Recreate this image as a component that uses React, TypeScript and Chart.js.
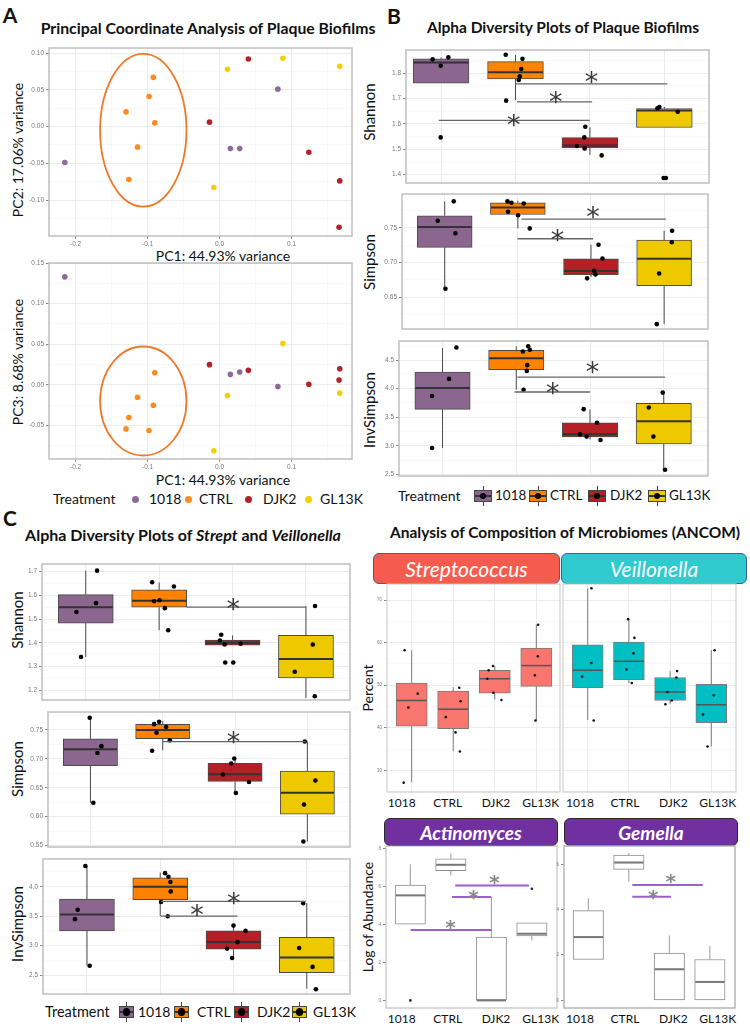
import React, { useEffect, useRef } from "react";
import { Chart, registerables } from "chart.js";

Chart.register(...registerables);
Chart.defaults.font.family = "'Liberation Sans', Arial, sans-serif";

// ---------------- data ----------------
const TREATMENTS = ["1018", "CTRL", "DJK2", "GL13K"];
const BOX_COLORS = ["#8B678F", "#FF8200", "#B42025", "#EEC900"];
const PCOA_COLORS = ["#8E6B96", "#FF8A1F", "#B3222C", "#F2D000"];

// PCoA coordinates per treatment
const PC1_1018 = [-0.215, 0.015, 0.028, 0.081];
const PC2_1018 = [-0.049, -0.030, -0.030, 0.051];
const PC3_1018 = [0.133, 0.013, 0.016, -0.002];
const PC1_CTRL = [-0.092, -0.098, -0.130, -0.090, -0.114, -0.126];
const PC2_CTRL = [0.067, 0.041, 0.020, 0.005, -0.028, -0.072];
const PC3_CTRL = [-0.025, -0.056, -0.054, 0.015, -0.015, -0.040];
const PC1_DJK2 = [0.040, -0.014, 0.124, 0.167, 0.166];
const PC2_DJK2 = [0.092, 0.006, -0.035, -0.074, -0.137];
const PC3_DJK2 = [0.018, 0.025, 0.001, 0.020, 0.006];
const PC1_GL13K = [0.011, 0.088, 0.167, -0.008];
const PC2_GL13K = [0.078, 0.093, 0.082, -0.083];
const PC3_GL13K = [-0.013, 0.051, -0.010, -0.081];
// ellipse: centre x, centre y, radius x, radius y (data units)
const ELLIPSE_PC12 = [-0.106, -0.005, 0.060, 0.104];
const ELLIPSE_PC13 = [-0.106, -0.0197, 0.060, 0.067];

// boxes: [lower whisker, q1, median, q3, upper whisker] per treatment
const B_SHANNON_BOX = [[1.761, 1.761, 1.843, 1.857, 1.863], [1.695, 1.778, 1.804, 1.846, 1.872], [1.478, 1.506, 1.515, 1.546, 1.587], [1.586, 1.586, 1.653, 1.661, 1.667]];
const B_SHANNON_PTS = [[0.887, 1.855], [1.098, 1.863], [0.995, 1.830], [0.995, 1.547], [1.869, 1.873], [2.094, 1.857], [2.077, 1.817], [2.058, 1.788], [2.044, 1.774], [1.875, 1.692], [2.938, 1.589], [2.925, 1.547], [2.825, 1.513], [2.929, 1.503], [3.158, 1.476], [3.907, 1.662], [3.934, 1.667], [4.180, 1.648], [3.99, 1.387], [4.02, 1.387]];
const B_SHANNON_SIG = [[2.0, 4.04, 1.758], [2.02, 3.03, 1.687], [0.97, 3.0, 1.614]];
const B_SHANNON_STARS = [[3.02, 1.789], [2.54, 1.708], [1.977, 1.620]];

const B_SIMPSON_BOX = [[0.662, 0.7216, 0.751, 0.7673, 0.788], [0.749, 0.769, 0.779, 0.786, 0.789], [0.679, 0.6824, 0.6876, 0.7053, 0.7255], [0.611, 0.6663, 0.7053, 0.7323, 0.7457]];
const B_SIMPSON_PTS = [[1.123, 0.788], [0.904, 0.760], [1.146, 0.742], [1.01, 0.662], [1.858, 0.788], [1.912, 0.786], [2.081, 0.785], [1.866, 0.773], [2.003, 0.768], [2.163, 0.749], [3.103, 0.7255], [3.157, 0.7055], [3.042, 0.688], [3.062, 0.6825], [2.947, 0.677], [4.109, 0.7457], [4.105, 0.729], [3.932, 0.684], [3.90, 0.611]];
const B_SIMPSON_SIG = [[2.049, 4.023, 0.7625], [1.995, 3.029, 0.7341]];
const B_SIMPSON_STARS = [[3.029, 0.7735], [2.542, 0.7414]];

const B_INVSIMPSON_BOX = [[2.96, 3.635, 4.01, 4.29, 4.71], [3.98, 4.33, 4.53, 4.67, 4.74], [3.11, 3.155, 3.20, 3.40, 3.635], [2.58, 3.03, 3.43, 3.74, 3.93]];
const B_INVSIMPSON_PTS = [[1.189, 4.72], [1.089, 4.17], [0.859, 3.87], [0.859, 2.96], [2.162, 4.74], [2.184, 4.68], [2.089, 4.65], [2.149, 4.41], [2.143, 4.31], [2.099, 3.98], [2.914, 3.64], [3.095, 3.40], [2.865, 3.20], [2.954, 3.16], [3.143, 3.10], [3.986, 3.93], [3.797, 3.67], [3.859, 3.16], [4.017, 2.58]];
const B_INVSIMPSON_SIG = [[2.014, 4.018, 4.20], [1.977, 3.0, 3.94]];
const B_INVSIMPSON_STARS = [[3.035, 4.395], [2.495, 4.03]];

const C_SHANNON_BOX = [[1.34, 1.483, 1.55, 1.603, 1.704], [1.453, 1.55, 1.577, 1.623, 1.654], [1.39, 1.39, 1.40, 1.411, 1.431], [1.167, 1.252, 1.332, 1.431, 1.555]];
const C_SHANNON_PTS = [[1.154, 1.704], [1.14, 1.567], [0.873, 1.53], [0.936, 1.34], [1.905, 1.655], [2.201, 1.637], [1.932, 1.575], [2.005, 1.579], [2.078, 1.546], [2.123, 1.453], [2.846, 1.434], [2.828, 1.41], [2.892, 1.393], [3.11, 1.396], [2.90, 1.317], [3.01, 1.317], [4.124, 1.555], [4.093, 1.393], [3.847, 1.278], [4.12, 1.175]];
const C_SHANNON_SIG = [[2.374, 4.0, 1.55]];
const C_SHANNON_STARS = [[3.01, 1.568]];

const C_SIMPSON_BOX = [[0.624, 0.688, 0.7166, 0.7345, 0.771], [0.715, 0.735, 0.75, 0.7597, 0.765], [0.641, 0.661, 0.6735, 0.6924, 0.7005], [0.557, 0.6043, 0.6414, 0.679, 0.730]];
const C_SIMPSON_PTS = [[0.99, 0.771], [1.152, 0.722], [1.097, 0.710], [1.04, 0.624], [1.881, 0.760], [1.95, 0.764], [2.047, 0.755], [1.914, 0.745], [2.098, 0.732], [1.853, 0.714], [2.989, 0.7005], [2.947, 0.692], [2.832, 0.673], [3.193, 0.660], [3.012, 0.641], [3.964, 0.730], [4.111, 0.6626], [3.954, 0.621], [3.945, 0.557]];
const C_SIMPSON_SIG = [[1.99, 3.98, 0.7299]];
const C_SIMPSON_STARS = [[2.98, 0.7385]];

const C_INVSIMPSON_BOX = [[2.66, 3.25, 3.53, 3.79, 4.35], [3.50, 3.78, 4.0, 4.15, 4.24], [2.78, 2.94, 3.06, 3.25, 3.34], [2.27, 2.54, 2.80, 3.14, 3.72]];
const C_INVSIMPSON_PTS = [[0.978, 4.35], [0.873, 3.61], [0.836, 3.45], [1.037, 2.66], [2.066, 4.23], [2.112, 4.17], [2.139, 4.08], [2.143, 3.92], [2.011, 3.74], [2.102, 3.50], [3.0, 3.34], [3.164, 3.25], [3.055, 3.06], [2.913, 2.95], [2.981, 2.79], [3.951, 3.72], [3.896, 2.96], [4.079, 2.64], [4.124, 2.26]];
const C_INVSIMPSON_SIG = [[2.007, 3.988, 3.75], [2.007, 3.055, 3.50]];
const C_INVSIMPSON_STARS = [[3.004, 3.83], [2.503, 3.62]];

const STREP_BOX = [[27.2, 40.35, 46.4, 50.5, 58.2], [34.5, 39.8, 44.35, 48.6, 49.5], [46.6, 48.1, 51.5, 53.5, 54.5], [41.8, 49.7, 54.6, 58.7, 64.2]];
const STREP_PTS = [[0.83, 58.2], [1.145, 48.0], [0.92, 44.75], [0.807, 27.1], [2.145, 49.4], [2.176, 46.2], [1.82, 42.5], [2.056, 38.9], [2.16, 34.4], [2.957, 54.5], [2.853, 53.5], [2.82, 51.5], [2.966, 48.2], [3.16, 46.5], [4.043, 64.2], [4.036, 56.8], [3.964, 52.3], [3.98, 41.7]];
const VEIL_BOX = [[41.8, 49.4, 53.5, 59.5, 72.7], [50.5, 51.3, 55.6, 60.1, 65.5], [45.5, 46.4, 48.4, 51.8, 53.3], [35.6, 41.2, 45.4, 50.2, 58.2]];
const VEIL_PTS = [[1.09, 72.75], [1.09, 55.2], [0.864, 52.0], [1.146, 41.7], [1.98, 65.5], [2.134, 61.1], [2.11, 57.5], [1.94, 53.7], [2.07, 50.5], [3.17, 53.3], [3.153, 51.8], [2.934, 48.4], [3.04, 46.4], [2.886, 45.5], [4.08, 58.2], [4.06, 47.6], [3.80, 43.1], [3.91, 35.6]];

const ACTINO_BOX = [[4.02, 4.02, 5.53, 6.07, 7.17], [6.58, 6.83, 7.14, 7.46, 7.72], [0, 0, 0, 3.33, 5.44], [3.16, 3.39, 3.51, 4.09, 4.09]];
const ACTINO_OUT = [[1, 0], [4, 5.88]];
const ACTINO_SIG = [[2.108, 3.93, 6.05], [2.027, 3.0, 5.44], [1.007, 3.01, 3.71]];
const ACTINO_STARS = [[3.076, 6.46], [2.56, 5.65], [1.99, 4.09]];
const GEMELLA_BOX = [[1.80, 1.80, 2.79, 3.96, 4.50], [5.24, 5.78, 6.08, 6.41, 6.5], [0, 0, 1.37, 2.08, 2.87], [0, 0, 0.81, 1.80, 2.39]];
const GEMELLA_SIG = [[2.086, 3.825, 5.09], [2.086, 3.04, 4.57]];
const GEMELLA_STARS = [[3.035, 5.43], [2.60, 4.72]];

// ---------------- chart machinery ----------------
const PADL = 30, PADT = 10, PADR = 10;

type Pts = { data: number[][]; color: string; r: number };
type Cfg = {
  l: number; t: number; w: number; h: number;
  xMin: number; xMax: number; yMin: number; yMax: number;
  xCats?: boolean; xMajor?: number; xMinor?: number; xDec?: number; xLabels?: boolean;
  yMajor: number; yMinor?: number; yDec: number; yLabels?: boolean; tickFont?: number;
  grid?: boolean;
  boxes?: number[][]; boxFill?: string[]; boxLine?: string; medLine?: string; whiskLine?: string; medW?: number;
  pts?: Pts[];
  sig?: number[][]; sigColor?: string; sigW?: number;
  stars?: number[][]; starFont?: string; starSize?: number; starColor?: string;
  ellipse?: number[];
  border?: string; borderW?: number;
};

const zip = (a: number[], b: number[]) => a.map((v, i) => [v, b[i]]);

function makeTicks(min: number, max: number, major: number, minor?: number) {
  const step = minor ?? major;
  const out: any[] = [];
  const start = Math.ceil((min - 1e-9) / step);
  for (let k = start; k * step <= max + 1e-9; k++) {
    const v = +(k * step).toFixed(6);
    const r = v / major;
    out.push({ value: v, mj: Math.abs(r - Math.round(r)) < 1e-6 });
  }
  return out;
}

function buildConfig(cfg: Cfg, W: number, padB: number): any {
  const xTicks = cfg.xCats ? [1, 2, 3, 4].map((v) => ({ value: v, mj: true })) : makeTicks(cfg.xMin, cfg.xMax, cfg.xMajor!, cfg.xMinor);
  const yTicks = makeTicks(cfg.yMin, cfg.yMax, cfg.yMajor, cfg.yMinor);
  const pxPerUnit = W / (cfg.xMax - cfg.xMin);
  const bw = 0.75 * pxPerUnit;
  const tf = cfg.tickFont ?? 7;
  const gridColor = (c: any) => (cfg.grid ? (c.tick && c.tick.mj ? "#EBEBEB" : "#F4F4F4") : "rgba(0,0,0,0)");
  const gridW = (c: any) => (c.tick && c.tick.mj ? 1 : 0.6);
  const tickCol = (c: any) => (c.tick && c.tick.mj ? "#8a8a8a" : "rgba(0,0,0,0)");

  const datasets: any[] = [];
  (cfg.pts || []).forEach((p) =>
    datasets.push({
      type: "scatter",
      data: p.data.map(([x, y]) => ({ x, y })),
      backgroundColor: p.color,
      borderWidth: 0,
      pointRadius: p.r,
      pointHoverRadius: p.r,
    })
  );
  if (cfg.boxes) {
    datasets.push({
      type: "bar",
      data: cfg.boxes.map((b, i) => ({ x: i + 1, y: [b[1], b[3]] })),
      backgroundColor: cfg.boxFill,
      borderColor: cfg.boxLine,
      borderWidth: 1,
      borderSkipped: false,
      barThickness: bw,
      grouped: true,
    });
  }

  const line = (ctx: CanvasRenderingContext2D, x1: number, y1: number, x2: number, y2: number) => {
    ctx.beginPath();
    ctx.moveTo(x1, y1);
    ctx.lineTo(x2, y2);
    ctx.stroke();
  };

  const extras = {
    id: "extras",
    afterDatasetDraw(chart: any, args: any) {
      if (!cfg.boxes || chart.data.datasets[args.index].type !== "bar") return;
      const ctx = chart.ctx, xs = chart.scales.x, ys = chart.scales.y;
      ctx.save();
      cfg.boxes.forEach((b, i) => {
        const cx = xs.getPixelForValue(i + 1);
        ctx.strokeStyle = cfg.whiskLine || cfg.boxLine;
        ctx.lineWidth = 1;
        if (b[4] > b[3]) line(ctx, cx, ys.getPixelForValue(b[3]), cx, ys.getPixelForValue(b[4]));
        if (b[0] < b[1]) line(ctx, cx, ys.getPixelForValue(b[0]), cx, ys.getPixelForValue(b[1]));
        ctx.strokeStyle = cfg.medLine;
        ctx.lineWidth = cfg.medW ?? 1.8;
        const my = ys.getPixelForValue(b[2]);
        line(ctx, cx - bw / 2 + 0.5, my, cx + bw / 2 - 0.5, my);
      });
      ctx.restore();
    },
    afterDatasetsDraw(chart: any) {
      const ctx = chart.ctx, xs = chart.scales.x, ys = chart.scales.y;
      ctx.save();
      if (cfg.ellipse) {
        const [ex, ey, rx, ry] = cfg.ellipse;
        const cx = xs.getPixelForValue(ex), cy = ys.getPixelForValue(ey);
        const prx = Math.abs(xs.getPixelForValue(ex + rx) - cx), pry = Math.abs(ys.getPixelForValue(ey + ry) - cy);
        ctx.strokeStyle = "#F07A2A";
        ctx.lineWidth = 1.8;
        ctx.beginPath();
        ctx.ellipse(cx, cy, prx, pry, 0, 0, Math.PI * 2);
        ctx.stroke();
      }
      (cfg.sig || []).forEach(([x1, x2, y]) => {
        ctx.strokeStyle = cfg.sigColor || "#666";
        ctx.lineWidth = cfg.sigW ?? 1.3;
        const py = ys.getPixelForValue(y);
        line(ctx, xs.getPixelForValue(x1), py, xs.getPixelForValue(x2), py);
      });
      (cfg.stars || []).forEach(([x, y]) => {
        const s = cfg.starSize ?? 22;
        ctx.font = cfg.starFont || `${s}px 'DejaVu Sans'`;
        ctx.fillStyle = cfg.starColor || "#444";
        ctx.textAlign = "center";
        ctx.textBaseline = "alphabetic";
        ctx.fillText("*", xs.getPixelForValue(x), ys.getPixelForValue(y) + s * 0.55);
      });
      ctx.restore();
    },
    afterDraw(chart: any) {
      const ctx = chart.ctx, a = chart.chartArea;
      ctx.save();
      ctx.strokeStyle = cfg.border || "#BFBFBF";
      ctx.lineWidth = cfg.borderW ?? 1.5;
      ctx.strokeRect(a.left, a.top, a.right - a.left, a.bottom - a.top);
      ctx.restore();
    },
  };

  return {
    type: "bar",
    data: { datasets },
    plugins: [extras],
    options: {
      animation: false,
      responsive: false,
      devicePixelRatio: 1,
      events: [],
      layout: { padding: { left: 0, top: PADT, right: PADR, bottom: 0 } },
      plugins: { legend: { display: false }, tooltip: { enabled: false }, title: { display: false } },
      scales: {
        x: {
          type: "linear",
          min: cfg.xMin,
          max: cfg.xMax,
          bounds: "data",
          offset: false,
          afterBuildTicks: (s: any) => { s.ticks = xTicks.map((t) => ({ ...t })); },
          afterFit: (s: any) => { s.height = padB; },
          border: { display: false },
          grid: { display: true, offset: false, color: gridColor, lineWidth: gridW, drawTicks: !!cfg.xLabels, tickLength: 3, tickColor: tickCol },
          ticks: {
            display: !!cfg.xLabels,
            autoSkip: false,
            maxRotation: 0,
            padding: 1,
            color: "#7a7a7a",
            font: { size: tf },
            callback: (v: number, i: number, t: any[]) => (t[i] && t[i].mj ? v.toFixed(cfg.xDec ?? 1) : ""),
          },
        },
        y: {
          type: "linear",
          position: "left",
          min: cfg.yMin,
          max: cfg.yMax,
          bounds: "data",
          beginAtZero: false,
          afterBuildTicks: (s: any) => { s.ticks = yTicks.map((t) => ({ ...t })); },
          afterFit: (s: any) => { s.width = PADL; },
          border: { display: false },
          grid: { display: true, color: gridColor, lineWidth: gridW, drawTicks: cfg.yLabels !== false, tickLength: 3, tickColor: tickCol },
          ticks: {
            display: cfg.yLabels !== false,
            autoSkip: false,
            padding: 2,
            color: "#7a7a7a",
            font: { size: tf },
            callback: (v: number, i: number, t: any[]) => (t[i] && t[i].mj ? v.toFixed(cfg.yDec) : ""),
          },
        },
      },
    },
  };
}

function ChartPanel({ cfg }: { cfg: Cfg }) {
  const ref = useRef<HTMLCanvasElement>(null);
  const L = Math.round(cfg.l), T = Math.round(cfg.t), W = Math.round(cfg.w), H = Math.round(cfg.h);
  const padB = cfg.xLabels ? 16 : 10;
  const cw = W + PADL + PADR, ch = H + PADT + padB;
  useEffect(() => {
    const chart = new Chart(ref.current as HTMLCanvasElement, buildConfig(cfg, W, padB));
    return () => chart.destroy();
  }, []);
  return (
    <canvas
      ref={ref}
      width={cw}
      height={ch}
      style={{ position: "absolute", left: L - PADL, top: T - PADT, width: cw, height: ch }}
    />
  );
}

// ---------------- panels ----------------
const PCOA_A1: Pts[] = [
  { data: zip(PC1_1018, PC2_1018), color: PCOA_COLORS[0], r: 2.8 },
  { data: zip(PC1_CTRL, PC2_CTRL), color: PCOA_COLORS[1], r: 2.8 },
  { data: zip(PC1_DJK2, PC2_DJK2), color: PCOA_COLORS[2], r: 2.8 },
  { data: zip(PC1_GL13K, PC2_GL13K), color: PCOA_COLORS[3], r: 2.8 },
];
const PCOA_A2: Pts[] = [
  { data: zip(PC1_1018, PC3_1018), color: PCOA_COLORS[0], r: 2.8 },
  { data: zip(PC1_CTRL, PC3_CTRL), color: PCOA_COLORS[1], r: 2.8 },
  { data: zip(PC1_DJK2, PC3_DJK2), color: PCOA_COLORS[2], r: 2.8 },
  { data: zip(PC1_GL13K, PC3_GL13K), color: PCOA_COLORS[3], r: 2.8 },
];

const boxCommon = {
  xCats: true, grid: true, boxFill: BOX_COLORS, boxLine: "#4a4a4a", medLine: "#333", medW: 2,
  sigColor: "#666", sigW: 1.3, tickFont: 6.5, starSize: 27, starColor: "#3a3a3a",
};

const PANELS: Cfg[] = [
  { l: 49, t: 48, w: 303, h: 188, xMin: -0.237, xMax: 0.184, yMin: -0.149, yMax: 0.107, xMajor: 0.1, xMinor: 0.05, xDec: 1, xLabels: true, yMajor: 0.05, yMinor: 0.025, yDec: 2, grid: true, pts: PCOA_A1, ellipse: ELLIPSE_PC12, tickFont: 6.5 },
  { l: 49, t: 263, w: 303, h: 196, xMin: -0.237, xMax: 0.184, yMin: -0.091, yMax: 0.150, xMajor: 0.1, xMinor: 0.05, xDec: 1, xLabels: true, yMajor: 0.05, yMinor: 0.025, yDec: 2, grid: true, pts: PCOA_A2, ellipse: ELLIPSE_PC13, tickFont: 6.5 },

  { ...boxCommon, l: 405.7, t: 50, w: 302.6, h: 133.3, xMin: 0.529, xMax: 4.6, yMin: 1.367, yMax: 1.892, yMajor: 0.1, yMinor: 0.05, yDec: 1, boxes: B_SHANNON_BOX, pts: [{ data: B_SHANNON_PTS, color: "#000", r: 2.3 }], sig: B_SHANNON_SIG, stars: B_SHANNON_STARS },
  { ...boxCommon, l: 402.3, t: 194.3, w: 306, h: 134.7, xMin: 0.416, xMax: 4.6, yMin: 0.604, yMax: 0.7986, yMajor: 0.05, yMinor: 0.025, yDec: 2, boxes: B_SIMPSON_BOX, pts: [{ data: B_SIMPSON_PTS, color: "#000", r: 2.3 }], sig: B_SIMPSON_SIG, stars: B_SIMPSON_STARS },
  { ...boxCommon, l: 399, t: 341, w: 309.3, h: 134.7, xMin: 0.41, xMax: 4.6, yMin: 2.47, yMax: 4.833, yMajor: 0.5, yMinor: 0.25, yDec: 1, boxes: B_INVSIMPSON_BOX, pts: [{ data: B_INVSIMPSON_PTS, color: "#000", r: 2.3 }], sig: B_INVSIMPSON_SIG, stars: B_INVSIMPSON_STARS },

  { ...boxCommon, l: 42.3, t: 564.3, w: 307.7, h: 136.4, xMin: 0.404, xMax: 4.6, yMin: 1.159, yMax: 1.732, yMajor: 0.1, yMinor: 0.05, yDec: 1, boxes: C_SHANNON_BOX, pts: [{ data: C_SHANNON_PTS, color: "#000", r: 2.3 }], sig: C_SHANNON_SIG, stars: C_SHANNON_STARS },
  { ...boxCommon, l: 48.3, t: 712.3, w: 301.7, h: 135.4, xMin: 0.413, xMax: 4.59, yMin: 0.5476, yMax: 0.781, yMajor: 0.05, yMinor: 0.025, yDec: 2, boxes: C_SIMPSON_BOX, pts: [{ data: C_SIMPSON_PTS, color: "#000", r: 2.3 }], sig: C_SIMPSON_SIG, stars: C_SIMPSON_STARS },
  { ...boxCommon, l: 43.3, t: 859, w: 306.7, h: 135, xMin: 0.40, xMax: 4.59, yMin: 2.18, yMax: 4.47, yMajor: 0.5, yMinor: 0.25, yDec: 1, boxes: C_INVSIMPSON_BOX, pts: [{ data: C_INVSIMPSON_PTS, color: "#000", r: 2.3 }], sig: C_INVSIMPSON_SIG, stars: C_INVSIMPSON_STARS },

  { l: 386.7, t: 584, w: 172.6, h: 207.7, xCats: true, xMin: 0.406, xMax: 4.57, yMin: 24.9, yMax: 73.76, yMajor: 10, yMinor: 5, yDec: 0, tickFont: 4.5, grid: true, boxes: STREP_BOX, boxFill: ["#F8766D", "#F8766D", "#F8766D", "#F8766D"], boxLine: "#7a7a7a", medLine: "#555", medW: 1.5, pts: [{ data: STREP_PTS, color: "#111", r: 1.3 }], border: "#CFCFCF", borderW: 1.2 },
  { l: 562.7, t: 584, w: 173.3, h: 207.7, xCats: true, xMin: 0.40, xMax: 4.6, yMin: 24.9, yMax: 73.76, yMajor: 10, yMinor: 5, yDec: 0, yLabels: false, tickFont: 4.5, grid: true, boxes: VEIL_BOX, boxFill: ["#00BFC4", "#00BFC4", "#00BFC4", "#00BFC4"], boxLine: "#7a7a7a", medLine: "#555", medW: 1.5, pts: [{ data: VEIL_PTS, color: "#111", r: 1.3 }], border: "#CFCFCF", borderW: 1.2 },

  { l: 385.7, t: 846, w: 171, h: 161.7, xCats: true, xMin: 0.40, xMax: 4.62, yMin: -0.4, yMax: 8.13, yMajor: 2, yDec: 0, tickFont: 4.5, grid: false, boxes: ACTINO_BOX, boxFill: ["#fff", "#fff", "#fff", "#fff"], boxLine: "#8c8c8c", whiskLine: "#9a9a9a", medLine: "#777", medW: 2, pts: [{ data: ACTINO_OUT, color: "#222", r: 1.3 }], sig: ACTINO_SIG, sigColor: "#9A5FD0", sigW: 2, stars: ACTINO_STARS, starSize: 20, starColor: "#8a8a8a", starFont: "bold 20px 'DejaVu Sans'", border: "#B5B5B5", borderW: 1 },
  { l: 564, t: 846, w: 171, h: 161.7, xCats: true, xMin: 0.40, xMax: 4.62, yMin: -0.34, yMax: 6.81, yMajor: 2, yDec: 0, tickFont: 4.5, grid: false, boxes: GEMELLA_BOX, boxFill: ["#fff", "#fff", "#fff", "#fff"], boxLine: "#8c8c8c", whiskLine: "#9a9a9a", medLine: "#777", medW: 2, sig: GEMELLA_SIG, sigColor: "#9A5FD0", sigW: 2, stars: GEMELLA_STARS, starSize: 20, starColor: "#8a8a8a", starFont: "bold 20px 'DejaVu Sans'", border: "#B5B5B5", borderW: 1.5 },
];

// ---------------- HTML text helpers ----------------
const FONT = "Lato, 'Open Sans', sans-serif";

function Txt(props: { x: number; y: number; size?: number; weight?: number; rot?: boolean; start?: boolean; color?: string; italic?: boolean; children: any }) {
  const { x, y, size = 14, weight = 400, rot, start, color = "#111", italic } = props;
  return (
    <div
      style={{
        position: "absolute",
        left: x,
        top: y,
        transform: `translate(${start ? "0" : "-50%"},-50%)${rot ? " rotate(-90deg)" : ""}`,
        fontSize: size,
        fontWeight: weight,
        fontStyle: italic ? "italic" : "normal",
        whiteSpace: "nowrap",
        lineHeight: 1,
        color,
        fontFamily: FONT,
      }}
    >
      {props.children}
    </div>
  );
}

function BoxGlyph({ x, y, w, h, fill, dot }: { x: number; y: number; w: number; h: number; fill: string; dot: number }) {
  const wh = 4;
  return (
    <div style={{ position: "absolute", left: x, top: y - h / 2 - wh, width: w, height: h + 2 * wh }}>
      <div style={{ position: "absolute", left: w / 2 - 0.5, top: 0, width: 1, height: h + 2 * wh, background: "#444" }} />
      <div style={{ position: "absolute", left: 0, top: wh, width: w, height: h, background: fill, border: "1px solid #444", boxSizing: "border-box" }} />
      <div style={{ position: "absolute", left: 1, top: wh + h / 2 - 0.75, width: w - 2, height: 1.5, background: "#333" }} />
      <div style={{ position: "absolute", left: w / 2 - dot, top: wh + h / 2 - dot, width: dot * 2, height: dot * 2, borderRadius: "50%", background: "#000" }} />
    </div>
  );
}

function Strip({ x, y, w, h, bg, border, children, size, weight }: any) {
  return (
    <div
      style={{
        position: "absolute", left: x, top: y, width: w, height: h, background: bg, border: `1.5px solid ${border}`,
        borderRadius: 6, boxSizing: "border-box", display: "flex", alignItems: "center", justifyContent: "center",
        color: "#fff", fontStyle: "italic", fontWeight: weight, fontSize: size, fontFamily: FONT,
      }}
    >
      {children}
    </div>
  );
}

const LEG_A_DOTS = [135, 188, 248, 308];
const LEG_A_TXT = [149, 199, 263, 320];
const LEG_B_BOX = [474, 529, 588, 648];
const LEG_B_TXT = [495, 550, 610, 669];
const LEG_C_BOX = [119, 174, 234, 292];
const LEG_C_TXT = [138, 197, 257, 313];
const ANCOM_X_TOP = [[401.7, 447.7, 496, 540.7], [580, 625, 673.3, 717.7]];

export default function App() {
  return (
    <div style={{ position: "absolute", left: 0, top: 0, width: 750, height: 1026, background: "#fff", overflow: "hidden", fontFamily: FONT }}>
      {/* panel letters and titles */}
      <Txt x={10} y={14} size={21} weight={700}>A</Txt>
      <Txt x={394} y={15} size={21} weight={700}>B</Txt>
      <Txt x={10} y={517} size={21} weight={700}>C</Txt>
      <Txt x={208} y={28} size={15.8} weight={700}>Principal Coordinate Analysis of Plaque Biofilms</Txt>
      <Txt x={563} y={28} size={15.5} weight={700}>Alpha Diversity Plots of Plaque Biofilms</Txt>
      <Txt x={183} y={535} size={16} weight={700}>
        Alpha Diversity Plots of <i>Strept</i> and <i>Veillonella</i>
      </Txt>
      <Txt x={565} y={533} size={15.5} weight={700}>Analysis of Composition of Microbiomes (ANCOM)</Txt>

      {/* axis titles panel A */}
      <Txt x={18} y={150} size={14} rot>PC2: 17.06% variance</Txt>
      <Txt x={223} y={256} size={14}>PC1: 44.93% variance</Txt>
      <Txt x={18} y={362} size={14} rot>PC3: 8.68% variance</Txt>
      <Txt x={223} y={480} size={14}>PC1: 44.93% variance</Txt>

      {/* legend A */}
      <Txt x={53} y={499} size={14} start>Treatment</Txt>
      {TREATMENTS.map((t, i) => (
        <React.Fragment key={"la" + t}>
          <div style={{ position: "absolute", left: LEG_A_DOTS[i] - 3.5, top: 499 - 3.5, width: 7, height: 7, borderRadius: "50%", background: PCOA_COLORS[i] }} />
          <Txt x={LEG_A_TXT[i]} y={499} size={14} start>{t}</Txt>
        </React.Fragment>
      ))}

      {/* B y titles */}
      <Txt x={369} y={112} size={15} rot>Shannon</Txt>
      <Txt x={369} y={262} size={15} rot>Simpson</Txt>
      <Txt x={369} y={410} size={15} rot>InvSimpson</Txt>

      {/* legend B */}
      <Txt x={398} y={496} size={14} start>Treatment</Txt>
      {TREATMENTS.map((t, i) => (
        <React.Fragment key={"lb" + t}>
          <BoxGlyph x={LEG_B_BOX[i]} y={496} w={18} h={12} fill={BOX_COLORS[i]} dot={3.3} />
          <Txt x={LEG_B_TXT[i]} y={496} size={13.5} start>{t}</Txt>
        </React.Fragment>
      ))}

      {/* C y titles */}
      <Txt x={17} y={620} size={15} rot>Shannon</Txt>
      <Txt x={17} y={769} size={15} rot>Simpson</Txt>
      <Txt x={17} y={924} size={15} rot>InvSimpson</Txt>

      {/* legend C */}
      <Txt x={45} y={1012} size={14.5} start>Treatment</Txt>
      {TREATMENTS.map((t, i) => (
        <React.Fragment key={"lc" + t}>
          <BoxGlyph x={LEG_C_BOX[i]} y={1012} w={15} h={12} fill={BOX_COLORS[i]} dot={3.8} />
          <Txt x={LEG_C_TXT[i]} y={1012} size={14} start>{t}</Txt>
        </React.Fragment>
      ))}

      {/* ANCOM */}
      <Strip x={373} y={553} w={187} h={31} bg="#F65C4E" border="#3E5E9E" size={21} weight={400}>Streptococcus</Strip>
      <Strip x={561} y={553} w={186} h={31} bg="#2FCBCF" border="#3E5E9E" size={21} weight={400}>Veillonella</Strip>
      <Strip x={384} y={818} w={174} h={28} bg="#7030A0" border="#2a2a2a" size={19} weight={700}>Actinomyces</Strip>
      <Strip x={564} y={818} w={174} h={28} bg="#7030A0" border="#2a2a2a" size={19} weight={700}>Gemella</Strip>
      <Txt x={368} y={688} size={14} rot>Percent</Txt>
      <Txt x={368} y={917} size={14} rot>Log of Abundance</Txt>
      {ANCOM_X_TOP.map((row, r) =>
        row.map((x, i) => (
          <React.Fragment key={"ax" + r + i}>
            <Txt x={x} y={803} size={12}>{TREATMENTS[i]}</Txt>
            <Txt x={x} y={1019} size={12}>{TREATMENTS[i]}</Txt>
          </React.Fragment>
        ))
      )}

      {PANELS.map((p, i) => (
        <ChartPanel key={i} cfg={p} />
      ))}
    </div>
  );
}
